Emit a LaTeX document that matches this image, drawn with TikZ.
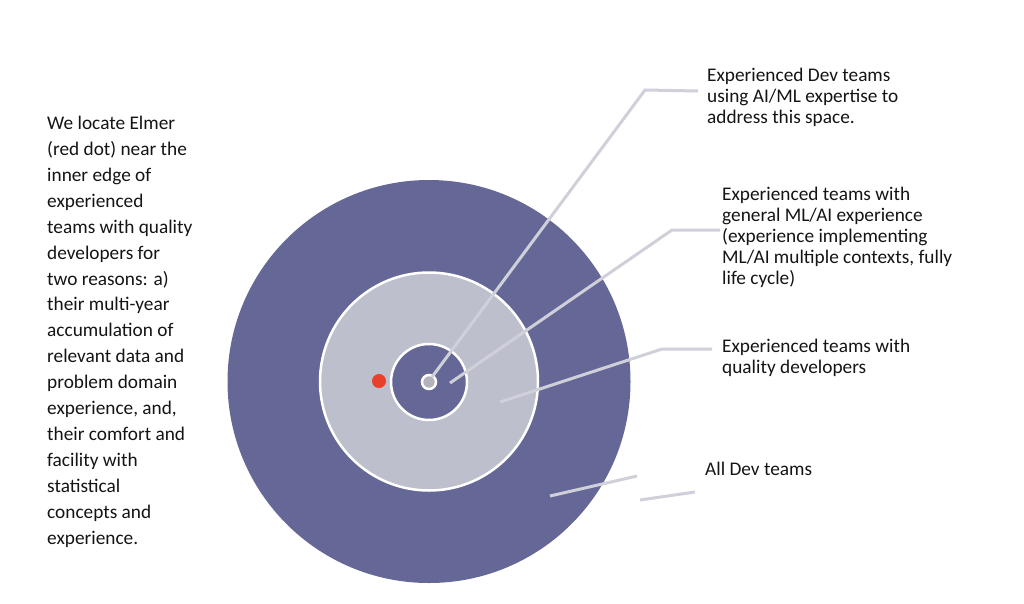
\documentclass[tikz,border=0pt]{standalone}
\usepackage{fontspec}
\setmainfont{Carlito}
\definecolor{ringdark}{RGB}{101,104,150}
\definecolor{ringlight}{RGB}{189,191,204}
\definecolor{leader}{RGB}{208,208,218}
\definecolor{hub}{RGB}{178,178,186}
\definecolor{elmer}{RGB}{232,64,42}
\definecolor{txt}{RGB}{20,20,20}
\begin{document}
\begin{tikzpicture}[x=1pt,y=-1pt,
  label text/.style={anchor=north west,inner sep=0pt,align=left,text=txt,
    font=\fontsize{19.3}{21}\selectfont},
  left text/.style={anchor=north west,inner sep=0pt,align=left,text=txt,
    font=\fontsize{19.3}{25.9}\selectfont},
  leaderline/.style={draw=leader,line width=3pt},
  ringborder/.style={draw=white,line width=2.5pt}]
\useasboundingbox (0,0) rectangle (1024,603);
% rings
\node[circle,fill=ringdark,minimum size=403pt,inner sep=0pt] (outer) at (429,381.5) {};
\node[circle,fill=ringlight,ringborder,minimum size=218pt,inner sep=0pt] (mid) at (429,381.5) {};
\node[circle,fill=ringdark,ringborder,minimum size=76pt,inner sep=0pt] (inner) at (429,382) {};
\node[circle,fill=hub,ringborder,minimum size=14pt,inner sep=0pt] (hub) at (429,382) {};
\node[circle,fill=elmer,minimum size=14pt,inner sep=0pt] (elmer) at (379,381) {};
% leader anchors
\coordinate (s1) at (432,377);
\coordinate (e1) at (645,90);
\coordinate (h1) at (698,91);
\coordinate (s2) at (450,383);
\coordinate (e2) at (672,230);
\coordinate (h2) at (720,230);
\coordinate (s3) at (500,402);
\coordinate (e3) at (662,349);
\coordinate (h3) at (712,349);
\coordinate (s4) at (550,496);
\coordinate (e4) at (637,476);
\coordinate (s5) at (640,500);
\coordinate (e5) at (695,492);
\draw[leaderline] (s1) -- (e1) -- (h1);
\draw[leaderline] (s2) -- (e2) -- (h2);
\draw[leaderline] (s3) -- (e3) -- (h3);
\draw[leaderline] (s4) -- (e4);
\draw[leaderline] (s5) -- (e5);
% labels
\node[label text] (t1) at (707,68) {Experienced Dev teams\\using AI/ML expertise to\\address this space.};
\node[label text] (t2) at (722,187) {Experienced teams with\\general ML/AI experience\\(experience implementing\\ML/AI multiple contexts, fully\\life cycle)};
\node[label text] (t3) at (722,339) {Experienced teams with\\quality developers};
\node[label text] (t4) at (705,462) {All Dev teams};
\node[left text] (t5) at (47,116) {We locate Elmer\\(red dot) near the\\inner edge of\\experienced\\teams with quality\\developers for\\two reasons: a)\\their multi-year\\accumulation of\\relevant data and\\problem domain\\experience, and,\\their comfort and\\facility with\\statistical\\concepts and\\experience.};
\end{tikzpicture}
\end{document}
